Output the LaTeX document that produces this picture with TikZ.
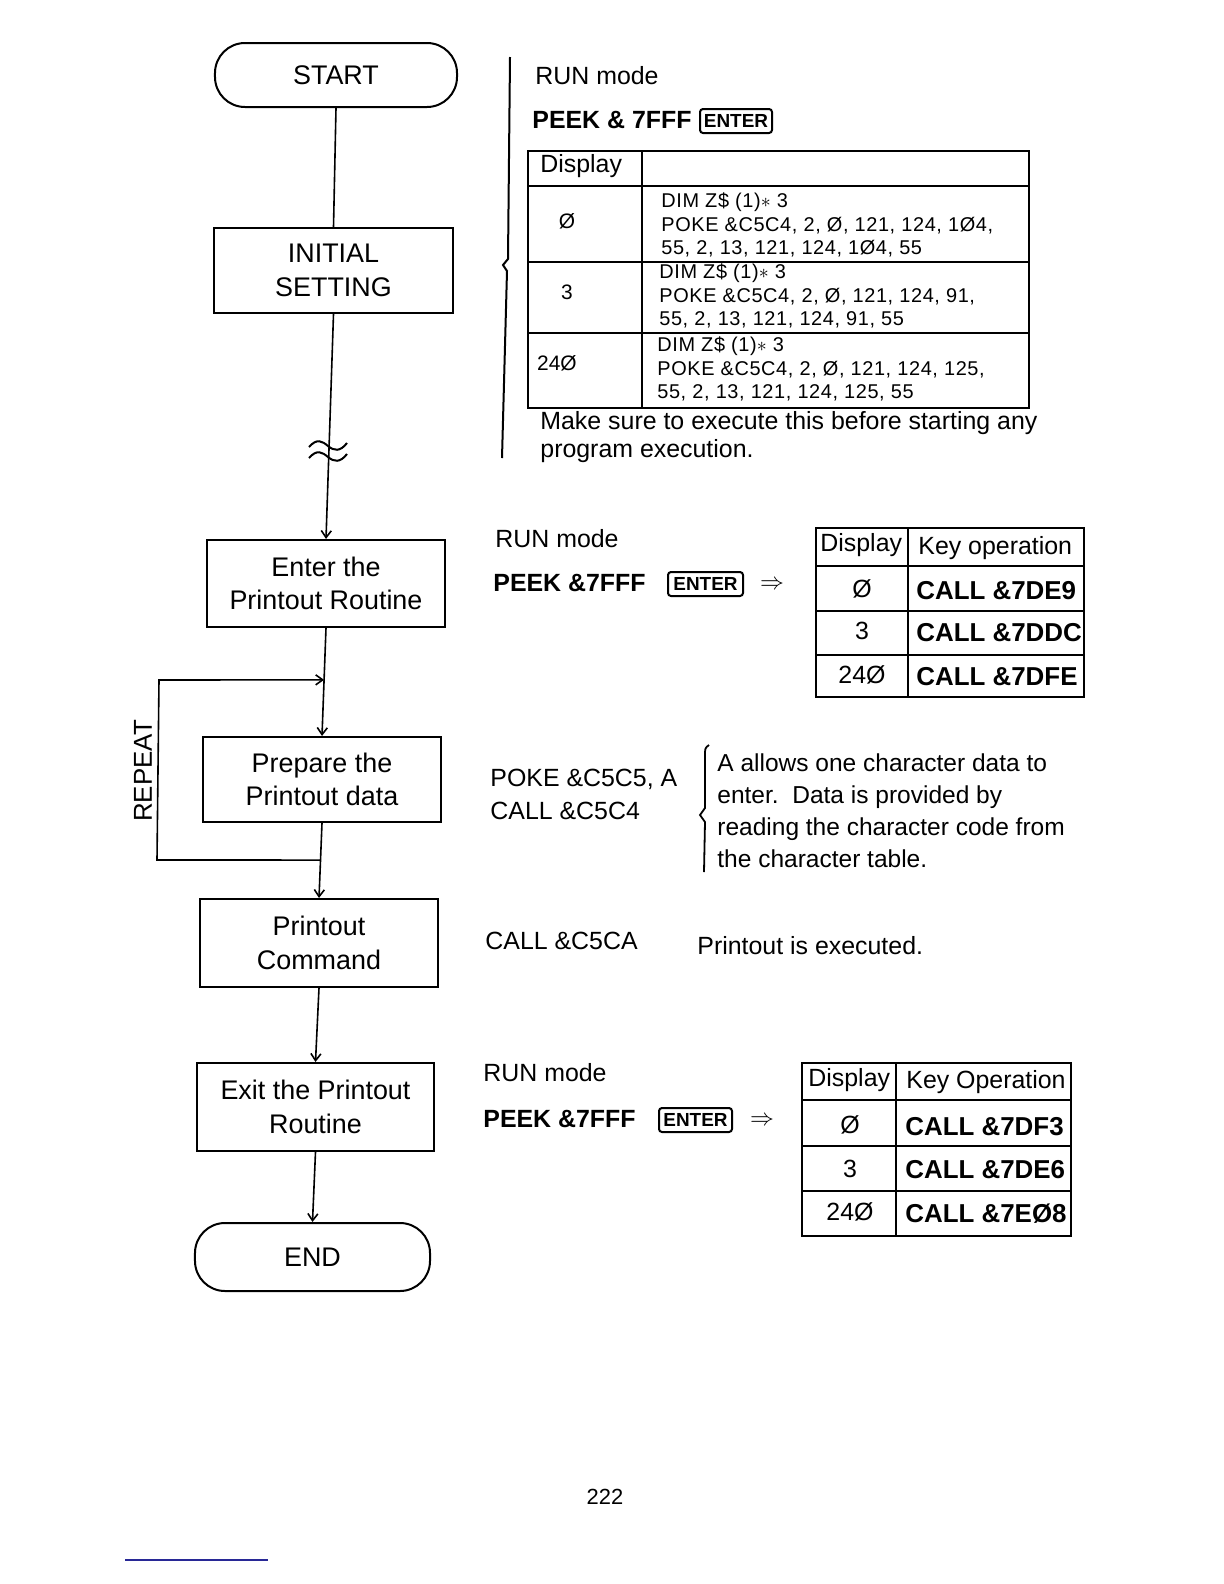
\documentclass[tikz,border=0pt]{standalone}
\usepackage{fontspec}
\setmainfont{Liberation Sans}
\usetikzlibrary{arrows.meta,calc}
\definecolor{footblue}{RGB}{40,40,150}
\begin{document}
\begin{tikzpicture}[x=0.5bp,y=-0.5bp,
  fc/.style={draw, line width=1bp, align=center, inner sep=0pt,
    font=\fontsize{13.5}{16.7}\selectfont},
  term/.style={fc, rounded corners=15bp},
  conn/.style={line width=0.8bp},
  arr/.style={conn, -{Straight Barb[length=3.5bp,width=5bp]}},
  lbl/.style={anchor=west, inner sep=0pt, align=left,
    font=\fontsize{12.5}{16}\selectfont},
  blbl/.style={anchor=west, inner sep=0pt,
    font=\fontsize{12.5}{16}\bfseries\selectfont},
  cbl/.style={anchor=west, inner sep=0pt,
    font=\fontsize{13}{16}\bfseries\selectfont},
  hdr/.style={anchor=west, inner sep=0pt,
    font=\fontsize{12.5}{16}\selectfont},
  val/.style={inner sep=0pt, font=\fontsize{12.5}{16}\selectfont},
  small/.style={anchor=west, inner sep=0pt, align=left,
    font=\fontsize{10}{11.6}\selectfont\addfontfeatures{LetterSpace=3}},
  enterkey/.style={draw, line width=1bp, rounded corners=1.5bp, inner sep=0pt,
    minimum height=12bp, font=\fontsize{9.5}{9.5}\bfseries\selectfont},
  tline/.style={line width=1.3bp},
  tline1/.style={line width=1bp}
]
\fill[white] (0,0) rectangle (1224,1584);
\useasboundingbox (0,0) rectangle (1224,1584);

% ---------------- flowchart ----------------
\node[term, minimum width=121bp, minimum height=32bp] (start) at (336,75) {START};
\node[fc, minimum width=119.5bp, minimum height=42.5bp] (init) at (333.5,270.5) {INITIAL\\SETTING};
\node[fc, minimum width=119bp, minimum height=43.5bp] (enter) at (326,583.5) {Enter the\\Printout Routine};
\node[fc, minimum width=119bp, minimum height=42.5bp] (prep) at (322,779.5) {Prepare the\\Printout data};
\node[fc, minimum width=119bp, minimum height=44bp] (cmd) at (319,943) {Printout\\Command};
\node[fc, minimum width=118.5bp, minimum height=44bp] (exit) at (315.5,1107) {Exit the Printout\\Routine};
\node[term, minimum width=117.5bp, minimum height=34bp] (end) at (312.5,1257) {END};

\draw[conn] (start.south) -- (init.north);
\draw[arr] (init.south) -- (enter.north);
\draw[arr] (enter.south) -- (prep.north);
\draw[arr] (prep.south) -- (cmd.north);
\draw[arr] (cmd.south) -- (exit.north);
\draw[arr] (exit.south) -- (end.north);

% break symbol
\draw[line width=1bp] (309,447) .. controls (317,438) and (322,441) .. (328,446)
  .. controls (334,451) and (340,452) .. (347,443);
\draw[line width=1bp] (309,458) .. controls (317,449) and (322,452) .. (328,457)
  .. controls (334,462) and (340,463) .. (347,454);

% repeat loop
\coordinate (ls) at ($(prep.south)!0.494!(cmd.north)$);
\coordinate (le) at ($(enter.south)!0.48!(prep.north)$);
\draw[arr] (ls) -- (157,860) -- (159,680) -- (le);
\node[rotate=90, inner sep=0pt, font=\fontsize{13}{16}\selectfont] (rep) at (143,771) {REPEAT};

% ---------------- top section ----------------
\draw[line width=1bp] (510,57) -- (508,259) -- (503,265) -- (507,271) -- (502,458);
\node[lbl] (run1) at (535,76) {RUN mode};
\node[blbl] (peek1) at (532,120) {PEEK \& 7FFF};
\node[enterkey, minimum width=36bp] (key1) at (736,121) {ENTER};

\draw[tline1] (528,151) rectangle (1029,408);
\draw[tline1] (642,151) -- (642,408);
\draw[tline1] (528,186) -- (1029,186);
\draw[tline1] (528,262) -- (1029,262);
\draw[tline1] (528,333) -- (1029,333);
\node[hdr] (th) at (540,166) {Display};
\node[val, font=\fontsize{10.5}{12}\selectfont] (tv1) at (567,221) {Ø};
\node[val, font=\fontsize{10.5}{12}\selectfont] (tv2) at (567,292) {3};
\node[val, font=\fontsize{10.5}{12}\selectfont] (tv3) at (557,363) {24Ø};
\node[small] (tc1) at (661,225) {DIM Z\$ (1)$\ast$ 3\\POKE \&C5C4, 2, Ø, 121, 124, 1Ø4,\\55, 2, 13, 121, 124, 1Ø4, 55};
\node[small] (tc2) at (659,296) {DIM Z\$ (1)$\ast$ 3\\POKE \&C5C4, 2, Ø, 121, 124, 91,\\55, 2, 13, 121, 124, 91, 55};
\node[small] (tc3) at (657,369) {DIM Z\$ (1)$\ast$ 3\\POKE \&C5C4, 2, Ø, 121, 124, 125,\\55, 2, 13, 121, 124, 125, 55};
\node[lbl, font=\fontsize{12.5}{14}\selectfont] (note) at (540,437) {Make sure to execute this before starting any\\program execution.};

% ---------------- section 1 ----------------
\node[lbl] (run2) at (495,539) {RUN mode};
\node[blbl] (peek2) at (493,583) {PEEK \&7FFF};
\node[enterkey, minimum width=37.5bp] (key2) at (705.5,584) {ENTER};
\node[inner sep=0pt, font=\fontsize{12}{12}\selectfont] (imp2) at (772,585) {$\Rightarrow$};
\draw[tline] (816,528) rectangle (1084,697);
\draw[tline] (908,528) -- (908,697);
\draw[tline] (816,566) -- (1084,566);
\draw[tline] (816,611) -- (1084,611);
\draw[tline] (816,655) -- (1084,655);
\node[hdr] (h2a) at (820,545) {Display};
\node[hdr] (h2b) at (918,548) {Key operation};
\node[val] (v2a) at (862,589) {Ø};
\node[val] (v2b) at (862,631) {3};
\node[val] (v2c) at (862,675) {24Ø};
\node[cbl] (c2a) at (916,591) {CALL \&7DE9};
\node[cbl] (c2b) at (916,633) {CALL \&7DDC};
\node[cbl] (c2c) at (916,677) {CALL \&7DFE};

% ---------------- section 2 ----------------
\node[lbl, font=\fontsize{12.5}{16.5}\selectfont] (poke) at (490,794.5) {POKE \&C5C5, A\\CALL \&C5C4};
\draw[line width=0.9bp] (709,745) .. controls (705,748) .. (705,756) -- (705,808) -- (700,815) -- (705,822) -- (704,872);
\node[lbl, font=\fontsize{12.3}{16}\selectfont] (expl) at (717,811) {A allows one character data to\\enter.\ \ Data is provided by\\reading the character code from\\the character table.};

% ---------------- section 3 ----------------
\node[lbl] (callp) at (485,941) {CALL \&C5CA};
\node[lbl] (exec) at (697,946) {Printout is executed.};

% ---------------- section 4 ----------------
\node[lbl] (run3) at (483,1073) {RUN mode};
\node[blbl] (peek3) at (483,1119) {PEEK \&7FFF};
\node[enterkey, minimum width=36.5bp] (key3) at (695.5,1120) {ENTER};
\node[inner sep=0pt, font=\fontsize{12}{12}\selectfont] (imp3) at (762,1121) {$\Rightarrow$};
\draw[tline] (802,1063) rectangle (1071,1236);
\draw[tline] (896,1063) -- (896,1236);
\draw[tline] (802,1100) -- (1071,1100);
\draw[tline] (802,1146) -- (1071,1146);
\draw[tline] (802,1191) -- (1071,1191);
\node[hdr] (h3a) at (808,1080) {Display};
\node[hdr] (h3b) at (906,1082) {Key Operation};
\node[val] (v3a) at (850,1125) {Ø};
\node[val] (v3b) at (850,1169) {3};
\node[val] (v3c) at (850,1212) {24Ø};
\node[cbl] (c3a) at (905,1127) {CALL \&7DF3};
\node[cbl] (c3b) at (905,1170) {CALL \&7DE6};
\node[cbl] (c3c) at (905,1214) {CALL \&7EØ8};

% ---------------- footer ----------------
\node[inner sep=0pt, font=\fontsize{11}{13}\selectfont] (pg) at (605,1497) {222};
\draw[footblue, line width=1bp] (125,1560) -- (268,1560);
\end{tikzpicture}
\end{document}
